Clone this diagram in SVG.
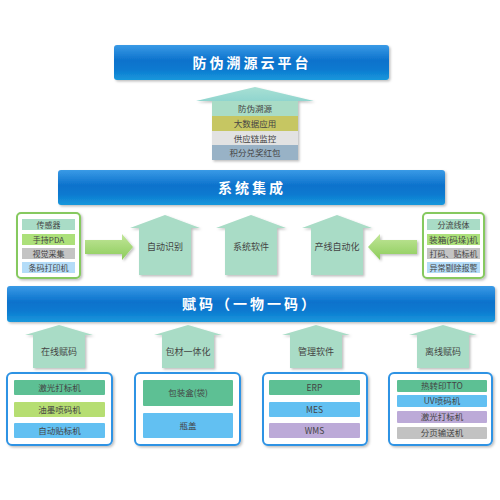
<svg xmlns="http://www.w3.org/2000/svg" width="500" height="500" viewBox="0 0 500 500">
<defs>
<linearGradient id="bannerG" x1="0" y1="0" x2="0" y2="1">
<stop offset="0" stop-color="#3a9ae6"/>
<stop offset="0.45" stop-color="#0b72cc"/>
<stop offset="0.7" stop-color="#0a7ad0"/>
<stop offset="1" stop-color="#1a98dc"/>
</linearGradient>
<linearGradient id="headG" x1="0" y1="0" x2="0" y2="1">
<stop offset="0" stop-color="#a8e0d4"/>
<stop offset="1" stop-color="#2aa6b6"/>
</linearGradient>
<linearGradient id="greenArrow" x1="0" y1="0" x2="0" y2="1">
<stop offset="0" stop-color="#c2e69a"/>
<stop offset="1" stop-color="#8ccc5a"/>
</linearGradient>
<filter id="sh" x="-10%" y="-10%" width="130%" height="130%">
<feDropShadow dx="1.5" dy="1.5" stdDeviation="1" flood-color="#000" flood-opacity="0.25"/>
</filter>
</defs>
<style>
.banner{fill:url(#bannerG);filter:url(#sh)}
.btxt{font-family:"Noto Sans CJK SC","Noto Sans",sans-serif;font-weight:bold;font-size:14px;fill:#fff;letter-spacing:3px;text-anchor:middle}
.house{fill:#a9dcc6;filter:url(#sh)}
.lbl{font-family:"Noto Sans CJK SC","Noto Sans",sans-serif;font-size:9px;fill:#444;text-anchor:middle}
.it{font-family:"Noto Sans CJK SC","Noto Sans",sans-serif;font-size:8.5px;fill:#444;text-anchor:middle}
.its{font-family:"Noto Sans CJK SC","Noto Sans",sans-serif;font-size:8px;fill:#444;text-anchor:middle}
.gbox{fill:#fff;stroke:#86c95e;stroke-width:2;filter:url(#sh)}
.bbox{fill:#fff;stroke:#2d93e4;stroke-width:2;filter:url(#sh)}
.ga{fill:url(#greenArrow);filter:url(#sh)}
.c-teal{fill:#a9dcc6}.c-grn{fill:#ace07a}.c-gry{fill:#c4c4c4}.c-lb{fill:#b4dcf8}
.c-dg{fill:#5dc094}.c-lg{fill:#b6de72}.c-bl{fill:#62c0f2}.c-lav{fill:#bcaad8}.c-g2{fill:#c2c2c2}
</style>

<g id="banner-top">
<rect class="banner" x="114" y="45" width="275" height="35" rx="3"/>
<text class="btxt" x="252" y="68">防伪溯源云平台</text>
</g>

<g id="top-arrow">
<path d="M255,87 L314,101 L298,101 L298,160 L212,160 L212,101 L196,101 Z" fill="url(#headG)" filter="url(#sh)"/>
<rect x="212" y="101" width="86" height="15" fill="#a9dcc6"/>
<text class="it" x="255" y="112">防伪溯源</text>
<rect x="212" y="116" width="86" height="15" fill="#c6c662"/>
<text class="it" x="255" y="127">大数据应用</text>
<rect x="212" y="131" width="86" height="14" fill="#e2e2e2"/>
<text class="it" x="255" y="141.5">供应链监控</text>
<rect x="212" y="145" width="86" height="15" fill="#98b2c6"/>
<text class="it" x="255" y="156">积分兑奖红包</text>
</g>

<g id="banner-mid">
<rect class="banner" x="58" y="170" width="387" height="35" rx="3"/>
<text class="btxt" x="252" y="193">系统集成</text>
</g>

<g id="left-box">
<rect class="gbox" x="17" y="213" width="63" height="65" rx="4"/>
<rect class="c-teal" x="22" y="219" width="53" height="11"/>
<text class="its" x="48.5" y="227.5">传感器</text>
<rect class="c-grn" x="22" y="234" width="53" height="11"/>
<text class="its" x="48.5" y="242.5">手持PDA</text>
<rect class="c-gry" x="22" y="248" width="53" height="11"/>
<text class="its" x="48.5" y="256.5">视觉采集</text>
<rect class="c-lb" x="22" y="262" width="53" height="11"/>
<text class="its" x="48.5" y="270.5">条码打印机</text>
</g>

<g id="right-box">
<rect class="gbox" x="423" y="213" width="61" height="65" rx="4"/>
<rect class="c-teal" x="427" y="219" width="53" height="11"/>
<text class="its" x="453.5" y="227.5">分流线体</text>
<rect class="c-grn" x="427" y="234" width="53" height="11"/>
<text class="its" x="453.5" y="242.5" textLength="49" lengthAdjust="spacingAndGlyphs">装箱(码垛)机</text>
<rect class="c-gry" x="427" y="248" width="53" height="11"/>
<text class="its" x="453.5" y="256.5">打码、贴标机</text>
<rect class="c-lb" x="427" y="262" width="53" height="11"/>
<text class="its" x="453.5" y="270.5">异常剔除报警</text>
</g>

<g id="node-zdsb">
<path class="house" d="M165,215 L200,228 L191,228 L191,275 L139,275 L139,228 L130,228 Z"/>
<text class="lbl" x="165" y="250">自动识别</text>
</g>
<g id="node-xtrj">
<path class="house" d="M251,215 L286,228 L277,228 L277,275 L225,275 L225,228 L216,228 Z"/>
<text class="lbl" x="251" y="250">系统软件</text>
</g>
<g id="node-cxzdh">
<path class="house" d="M337,215 L372,228 L363,228 L363,275 L311,275 L311,228 L302,228 Z"/>
<text class="lbl" x="337" y="250">产线自动化</text>
</g>

<g id="connectors">
<path class="ga" d="M85,240 L122,240 L122,234 L133,247 L122,260 L122,254 L85,254 Z"/>
<path class="ga" d="M417,240 L380,240 L380,234 L368,247 L380,260 L380,254 L417,254 Z"/>
</g>

<g id="banner-low">
<rect class="banner" x="7" y="286" width="488" height="36" rx="3"/>
<text class="btxt" x="250" y="309">赋码（一物一码）</text>
</g>

<g id="node-zxfm">
<path class="house" d="M59,325 L93,335 L85,335 L85,368 L33,368 L33,335 L25,335 Z"/>
<text class="lbl" x="59" y="355">在线赋码</text>
</g>
<g id="node-bcyth">
<path class="house" d="M188,325 L222,335 L214,335 L214,368 L162,368 L162,335 L154,335 Z"/>
<text class="lbl" x="188" y="355">包材一体化</text>
</g>
<g id="node-glrj">
<path class="house" d="M316,325 L350,335 L342,335 L342,368 L290,368 L290,335 L282,335 Z"/>
<text class="lbl" x="316" y="355">管理软件</text>
</g>
<g id="node-lxfm">
<path class="house" d="M443,325 L477,335 L469,335 L469,368 L417,368 L417,335 L409,335 Z"/>
<text class="lbl" x="443" y="355">离线赋码</text>
</g>

<g id="box-1">
<rect class="bbox" x="7" y="373" width="105" height="72" rx="5"/>
<rect class="c-dg" x="14" y="380" width="91" height="15" rx="1"/>
<text class="it" x="59.5" y="391">激光打标机</text>
<rect class="c-lg" x="14" y="402" width="91" height="15" rx="1"/>
<text class="it" x="59.5" y="413">油墨喷码机</text>
<rect class="c-bl" x="14" y="423" width="91" height="15" rx="1"/>
<text class="it" x="59.5" y="434">自动贴标机</text>
</g>

<g id="box-2">
<rect class="bbox" x="135" y="373" width="105" height="72" rx="5"/>
<rect class="c-dg" x="143" y="380" width="90" height="26" rx="1"/>
<text class="it" x="188" y="396">包装盒(袋)</text>
<rect class="c-bl" x="143" y="413" width="90" height="25" rx="1"/>
<text class="it" x="188" y="429">瓶盖</text>
</g>

<g id="box-3">
<rect class="bbox" x="263" y="373" width="104" height="72" rx="5"/>
<rect class="c-dg" x="269" y="380" width="91" height="15" rx="1"/>
<text class="it" x="314.5" y="391">ERP</text>
<rect class="c-bl" x="269" y="402" width="91" height="15" rx="1"/>
<text class="it" x="314.5" y="413">MES</text>
<rect class="c-lav" x="269" y="423" width="91" height="15" rx="1"/>
<text class="it" x="314.5" y="434">WMS</text>
</g>

<g id="box-4">
<rect class="bbox" x="389" y="373" width="103" height="72" rx="5"/>
<rect class="c-dg" x="397" y="380" width="90" height="12" rx="1"/>
<text class="it" x="442" y="389">热转印TTO</text>
<rect class="c-bl" x="397" y="395" width="90" height="12" rx="1"/>
<text class="it" x="442" y="404">UV喷码机</text>
<rect class="c-lav" x="397" y="411" width="90" height="12" rx="1"/>
<text class="it" x="442" y="420">激光打标机</text>
<rect class="c-g2" x="397" y="427" width="90" height="12" rx="1"/>
<text class="it" x="442" y="436">分页输送机</text>
</g>
</svg>
